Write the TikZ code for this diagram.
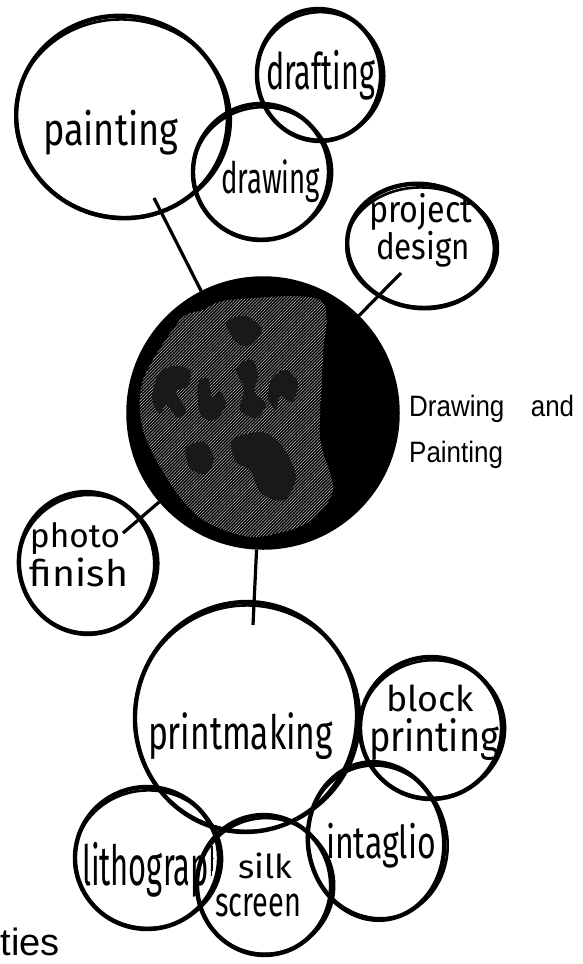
\documentclass[tikz,border=0pt]{standalone}
\usepackage{fontspec}
\usepackage{graphicx}
\newfontfamily\handfont{Fira Sans}
\newfontfamily\capfont{Liberation Sans}[FakeStretch=0.88]
\newfontfamily\tiesfont{Liberation Sans}
\usetikzlibrary{shapes.geometric,patterns.meta,calc}
\newcommand\hw[3]{\resizebox*{#1pt}{#2pt}{\handfont #3}}
\newcommand\twoline[5]{\vbox{\offinterlineskip\hbox{\hskip#1pt #2}\kern#3pt\hbox{\hskip#4pt #5}}}
\tikzset{
  hring/.style={draw, shape=ellipse, inner sep=0pt, outer sep=0pt, line width=4.4pt},
  hring2/.style={draw, line width=2.6pt},
  link/.style={draw, line width=3.2pt},
  lab/.style={inner sep=0pt, outer sep=0pt, anchor=north west},
  patch/.style={fill=black!90},
}
\newcommand\hcirc[6][0]{%
  \node[hring, minimum width={2*#5}, minimum height={2*#6}, rotate=#1] (#2) at (#3,#4) {};
  \draw[hring2, rotate around={#1+6:(#3,#4)}] (#3+1.2,#4+1.2) ellipse [x radius={#5+1.8}, y radius={#6-2.2}];
}
\begin{document}
\begin{tikzpicture}[x=1pt,y=-1pt]
\useasboundingbox (0,0) rectangle (582,964);
% central dark circle
\node[draw, circle, fill=black, minimum size=272pt, inner sep=0pt, line width=1.5pt] (center) at (263,413) {};
\fill[pattern={Lines[angle=45,distance=2.2pt,line width=0.55pt]}, pattern color=white!72!black]
  plot[smooth cycle] coordinates {(230,300)(320,300)(323,357)(320,437)(333,490)(307,523)(253,537)(203,520)(170,483)(143,430)(143,380)(180,320)(203,310)};
% darker figure-like patches inside the texture
\fill[patch] plot[smooth cycle, tension=0.5] coordinates {(158,376)(172,366)(190,370)(188,386)(176,392)(186,410)(178,418)(166,404)(160,414)(152,398)};
\fill[patch] plot[smooth cycle, tension=0.5] coordinates {(198,384)(208,378)(212,398)(220,392)(226,404)(214,420)(200,414)};
\fill[patch] plot[smooth cycle, tension=0.5] coordinates {(236,368)(252,360)(258,376)(254,392)(266,404)(256,418)(240,410)(244,390)};
\fill[patch] plot[smooth cycle, tension=0.5] coordinates {(272,378)(286,370)(298,384)(292,402)(280,396)(276,410)(268,398)};
\fill[patch] plot[smooth cycle, tension=0.5] coordinates {(232,440)(262,432)(282,446)(296,476)(284,500)(262,494)(250,470)(236,462)};
\fill[patch] plot[smooth cycle, tension=0.5] coordinates {(186,448)(204,442)(214,458)(206,474)(190,468)};
\fill[patch] plot[smooth cycle, tension=0.5] coordinates {(226,322)(246,316)(262,330)(250,346)(236,342)};
% circles
\hcirc[-12]{painting}{122}{117}{106}{101}
\hcirc[5]{drafting}{319}{75}{62}{66}
\hcirc{drawing}{261}{172}{68}{68}
\hcirc[-8]{project}{421}{246}{74}{62}
\hcirc[10]{photo}{87}{563}{68}{71}
\hcirc[-6]{printmaking}{246}{717}{111}{115}
\hcirc{block}{431}{728}{71}{71}
\hcirc[8]{intaglio}{376}{841}{68}{79}
\hcirc[-5]{litho}{147}{858}{72}{71}
\hcirc[6]{silk}{264}{885}{67}{70}
% connectors
\coordinate (pa-in) at (154,198);
\coordinate (pd-in) at (401,273);
\coordinate (ph-in) at (123,533);
\coordinate (pm-in) at (253,625);
\draw[link] (pa-in) -- (center);
\draw[link] (pd-in) -- (center);
\draw[link] (ph-in) -- (center);
\draw[link] (pm-in) -- (center);
% labels
\node[lab] (t-painting) at (43,110) {\hw{135}{45}{painting}};
\node[lab] (t-drafting) at (266,50) {\hw{109}{50}{drafting}};
\node[lab] (t-drawing) at (221,160) {\hw{99}{43}{drawing}};
\node[lab] (t-project) at (369,193) {\twoline{0}{\hw{103}{37}{project}}{1}{7}{\hw{94}{36}{design}}};
\node[lab] (t-photo) at (30,523) {\twoline{0}{\hw{90}{32}{photo}}{3}{0}{\hw{98}{29}{finish}}};
\node[lab] (t-printmaking) at (148,713) {\hw{185}{47}{printmaking}};
\begin{scope}
  \clip (431,728) ellipse [x radius=68, y radius=68];
  \node[lab] (t-block) at (369,685) {\twoline{17}{\hw{88}{27}{block}}{6}{0}{\hw{130}{42}{printing}}};
\end{scope}
\node[lab] (t-intaglio) at (326,823) {\hw{110}{45}{intaglio}};
\begin{scope}
  \clip (147,858) ellipse [x radius=66, y radius=70];
  \node[lab] (t-litho) at (82,842) {\hw{145}{55}{lithograph}};
\end{scope}
\node[lab] (t-silk) at (215,853) {\twoline{23}{\hw{54}{26}{silk}}{15}{0}{\hw{86}{23}{screen}}};
% printed captions
\node[anchor=north west, inner sep=0pt, text width=165pt, align=left,
      font=\capfont\fontsize{29.5}{46}\selectfont] (caption) at (409,394.9) {Drawing\hfill and\\Painting};
\node[anchor=base west, inner sep=0pt, font=\tiesfont\fontsize{38}{38}\selectfont] (ties) at (0.5,955) {ties};
\end{tikzpicture}
\end{document}
